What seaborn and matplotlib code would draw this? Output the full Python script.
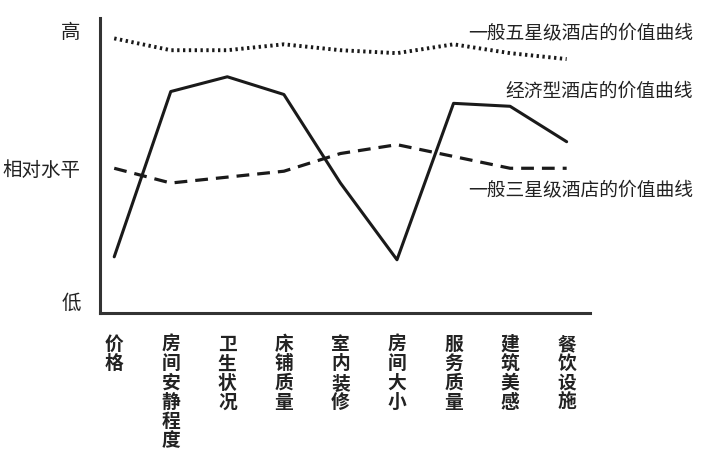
import matplotlib
matplotlib.use("Agg")
import matplotlib.pyplot as plt
import numpy as np
import pandas as pd
import seaborn as sns

# value curve data (relative level, 0 = 低, 100 = 高)
factors = ["价格", "房间安静程度", "卫生状况", "床铺质量", "室内装修",
           "房间大小", "服务质量", "建筑美感", "餐饮设施"]
five_star = [93, 89, 89, 91, 89, 88, 91, 88, 86]
budget = [19, 75, 80, 74, 44, 18, 71, 70, 58]
three_star = [49, 44, 46, 48, 54, 57, 53, 49, 49]

series_names = ["一般五星级酒店的价值曲线", "经济型酒店的价值曲线", "一般三星级酒店的价值曲线"]

sns.set_style("white")
plt.rcParams['font.family'] = ['Noto Sans CJK SC', 'DejaVu Sans']

df = pd.DataFrame({
    "x": np.tile(np.arange(len(factors)), 3),
    "level": five_star + budget + three_star,
    "curve": np.repeat(series_names, len(factors)),
})

fig = plt.figure(figsize=(7.2, 4.67), dpi=100)
ax = fig.add_axes([0.139, 0.330, 0.681, 0.632])

styles = {
    series_names[0]: dict(linestyle=(0, (0.6, 0.9)), linewidth=2.8),
    series_names[1]: dict(linestyle="-", linewidth=2.2),
    series_names[2]: dict(linestyle=(0, (4, 2.5)), linewidth=2.3),
}
for name in series_names:
    sub = df[df["curve"] == name]
    sns.lineplot(data=sub, x="x", y="level", ax=ax, color="#1a1a1a",
                 legend=False, **styles[name])

ax.set_xlim(-0.25, 8.42)
ax.set_ylim(0, 100)
ax.set_xlabel("")
ax.set_ylabel("")

ax.set_xticks(np.arange(len(factors)))
ax.set_xticklabels(["\n".join(f) for f in factors], fontsize=13.5,
                   linespacing=1.02, va="top", fontweight="bold", color="#222222")
ax.set_yticks([96, 49, 4])
ax.set_yticklabels(["高", "相对水平", "低"], fontsize=14, color="#222222")
ax.tick_params(axis="both", length=0)
ax.tick_params(axis="x", pad=16)
ax.tick_params(axis="y", pad=14)

for s in ["top", "right"]:
    ax.spines[s].set_visible(False)
for s in ["left", "bottom"]:
    ax.spines[s].set_color("#333333")
    ax.spines[s].set_linewidth(2.2)

# curve labels
label_pos = [(693, 33), (693, 91), (693, 190)]
for name, (px, py) in zip(series_names, label_pos):
    fig.text(px / 720, 1 - py / 467, name, ha="right", va="center",
             fontsize=13.5, color="#222222")

fig.savefig("out.png", dpi=100)
